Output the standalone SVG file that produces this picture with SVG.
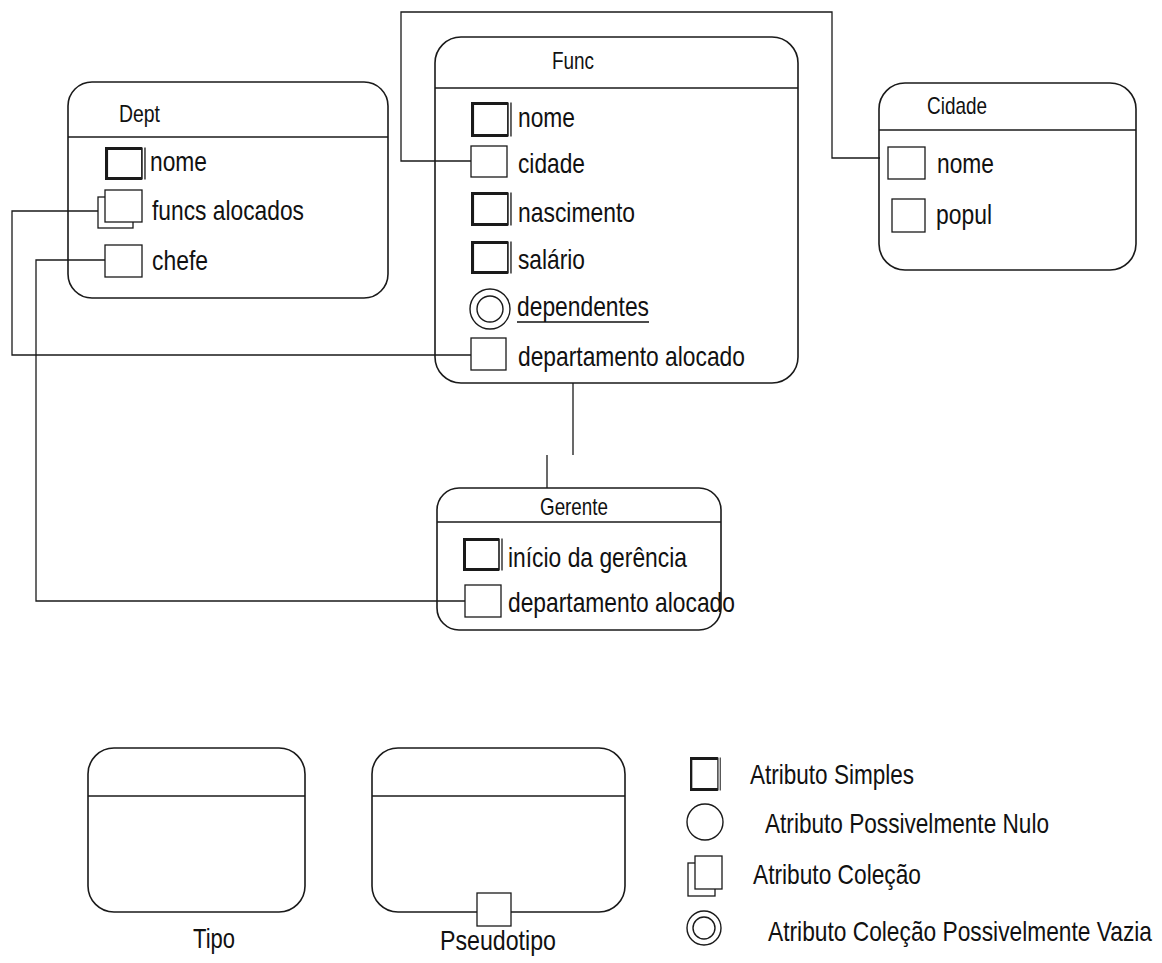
<svg xmlns="http://www.w3.org/2000/svg" width="1162" height="963" viewBox="0 0 1162 963">
<style>
  .box{fill:none;stroke:#1a1a1a;stroke-width:1.6}
  .div{stroke:#1a1a1a;stroke-width:1.4}
  .att{fill:#fff;stroke:#1a1a1a;stroke-width:1.3}
  .ring{fill:#fff;stroke:#1a1a1a;stroke-width:1.4}
  .wire{fill:none;stroke:#1a1a1a;stroke-width:1.3}
  text{font-family:"Liberation Sans",Arial,sans-serif;fill:#111}
  .t{font-size:24px}
  .a{font-size:28px}
</style>
<defs>
  <!-- simple attribute: heavy frame with a doubled right edge -->
  <symbol id="simples" viewBox="0 0 40 34" preserveAspectRatio="none" overflow="visible">
    <rect x="1.5" y="1.5" width="36" height="31" fill="#fff" stroke="none"/>
    <path d="M36,1.5 H1.5 V32.5 H36" fill="none" stroke="#1a1a1a" stroke-width="3"/>
    <line x1="36" y1="0.5" x2="36" y2="33.5" stroke="#1a1a1a" stroke-width="1.6"/>
    <line x1="39" y1="0.5" x2="39" y2="33.5" stroke="#1a1a1a" stroke-width="1.3"/>
  </symbol>
</defs>
<rect width="1162" height="963" fill="#fff"/>

<!-- connectors -->
<g id="connectors">
  <path class="wire" d="M471,161 H401 V12 H832 V158 H880"/>
  <path class="wire" d="M98,211 H12 V355 H471"/>
  <path class="wire" d="M105,260 H36 V601 H465"/>
  <path class="wire" d="M573,383 V455 M547,455 V488"/>
</g>

<!-- Dept -->
<g id="dept">
  <rect class="box" x="68" y="82" width="320" height="216" rx="24"/>
  <line class="div" x1="68" y1="137" x2="388" y2="137"/>
  <text class="t" x="119" y="122" textLength="41" lengthAdjust="spacingAndGlyphs">Dept</text>
  <use href="#simples" x="105" y="147" width="41" height="33"/>
  <text class="a" x="150" y="171" textLength="57" lengthAdjust="spacingAndGlyphs">nome</text>
  <rect class="att" x="98" y="197" width="35" height="31"/>
  <rect class="att" x="105" y="190" width="37" height="32"/>
  <text class="a" x="152" y="220" textLength="152" lengthAdjust="spacingAndGlyphs">funcs alocados</text>
  <rect class="att" x="105" y="245" width="37" height="32"/>
  <text class="a" x="152" y="270" textLength="56" lengthAdjust="spacingAndGlyphs">chefe</text>
</g>

<!-- Func -->
<g id="func">
  <rect class="box" x="435" y="37" width="363" height="346" rx="26"/>
  <line class="div" x1="435" y1="88" x2="798" y2="88"/>
  <text class="t" x="552" y="69" textLength="42" lengthAdjust="spacingAndGlyphs">Func</text>
  <use href="#simples" x="471" y="102" width="41" height="35"/>
  <text class="a" x="518" y="127" textLength="57" lengthAdjust="spacingAndGlyphs">nome</text>
  <rect class="att" x="471" y="146" width="36" height="31"/>
  <text class="a" x="518" y="173" textLength="67" lengthAdjust="spacingAndGlyphs">cidade</text>
  <use href="#simples" x="471" y="192" width="41" height="34"/>
  <text class="a" x="518" y="222" textLength="117" lengthAdjust="spacingAndGlyphs">nascimento</text>
  <use href="#simples" x="471" y="241" width="41" height="33"/>
  <text class="a" x="518" y="269" textLength="67" lengthAdjust="spacingAndGlyphs">salário</text>
  <circle class="ring" cx="490" cy="309" r="20"/>
  <circle class="ring" cx="490" cy="309" r="13"/>
  <text class="a" x="517" y="316" textLength="132" lengthAdjust="spacingAndGlyphs">dependentes</text>
  <line x1="517" y1="322" x2="649" y2="322" stroke="#111" stroke-width="1.5"/>
  <rect class="att" x="471" y="338" width="35" height="32"/>
  <text class="a" x="518" y="366" textLength="227" lengthAdjust="spacingAndGlyphs">departamento alocado</text>
</g>

<!-- Cidade -->
<g id="cidade">
  <rect class="box" x="879" y="83" width="257" height="187" rx="26"/>
  <line class="div" x1="879" y1="130" x2="1136" y2="130"/>
  <text class="t" x="927" y="114" textLength="60" lengthAdjust="spacingAndGlyphs">Cidade</text>
  <rect class="att" x="888" y="147" width="37" height="32"/>
  <text class="a" x="937" y="173" textLength="57" lengthAdjust="spacingAndGlyphs">nome</text>
  <rect class="att" x="892" y="199" width="33" height="33"/>
  <text class="a" x="936" y="224" textLength="56" lengthAdjust="spacingAndGlyphs">popul</text>
</g>

<!-- Gerente -->
<g id="gerente">
  <rect class="box" x="437" y="488" width="284" height="142" rx="22"/>
  <line class="div" x1="437" y1="522" x2="721" y2="522"/>
  <text class="t" x="540" y="515" textLength="68" lengthAdjust="spacingAndGlyphs">Gerente</text>
  <use href="#simples" x="463" y="538" width="40" height="33"/>
  <text class="a" x="508" y="567" textLength="179" lengthAdjust="spacingAndGlyphs">início da gerência</text>
  <rect class="att" x="465" y="585" width="36" height="32"/>
  <text class="a" x="508" y="612" textLength="227" lengthAdjust="spacingAndGlyphs">departamento alocado</text>
</g>

<!-- notation key -->
<g id="tipo">
  <rect class="box" x="88" y="748" width="217" height="164" rx="26"/>
  <line class="div" x1="88" y1="796" x2="305" y2="796"/>
  <text class="a" x="193" y="948" textLength="42" lengthAdjust="spacingAndGlyphs">Tipo</text>
</g>
<g id="pseudotipo">
  <rect class="box" x="372" y="748" width="253" height="164" rx="26"/>
  <line class="div" x1="372" y1="796" x2="625" y2="796"/>
  <rect class="att" x="477" y="893" width="34" height="33"/>
  <text class="a" x="440" y="950" textLength="116" lengthAdjust="spacingAndGlyphs">Pseudotipo</text>
</g>
<g id="key-simples">
  <use href="#simples" x="690" y="757" width="31" height="34"/>
  <text class="a" x="750" y="784" textLength="164" lengthAdjust="spacingAndGlyphs">Atributo Simples</text>
</g>
<g id="key-nulo">
  <circle class="ring" cx="705" cy="822" r="18"/>
  <text class="a" x="765" y="833" textLength="284" lengthAdjust="spacingAndGlyphs">Atributo Possivelmente Nulo</text>
</g>
<g id="key-colecao">
  <rect class="att" x="688" y="863" width="27" height="33"/>
  <rect class="att" x="695" y="856" width="27" height="33"/>
  <text class="a" x="753" y="884" textLength="168" lengthAdjust="spacingAndGlyphs">Atributo Coleção</text>
</g>
<g id="key-vazia">
  <circle class="ring" cx="704" cy="928" r="17"/>
  <circle class="ring" cx="704" cy="928" r="11"/>
  <text class="a" x="768" y="941" textLength="384" lengthAdjust="spacingAndGlyphs">Atributo Coleção Possivelmente Vazia</text>
</g>
</svg>
